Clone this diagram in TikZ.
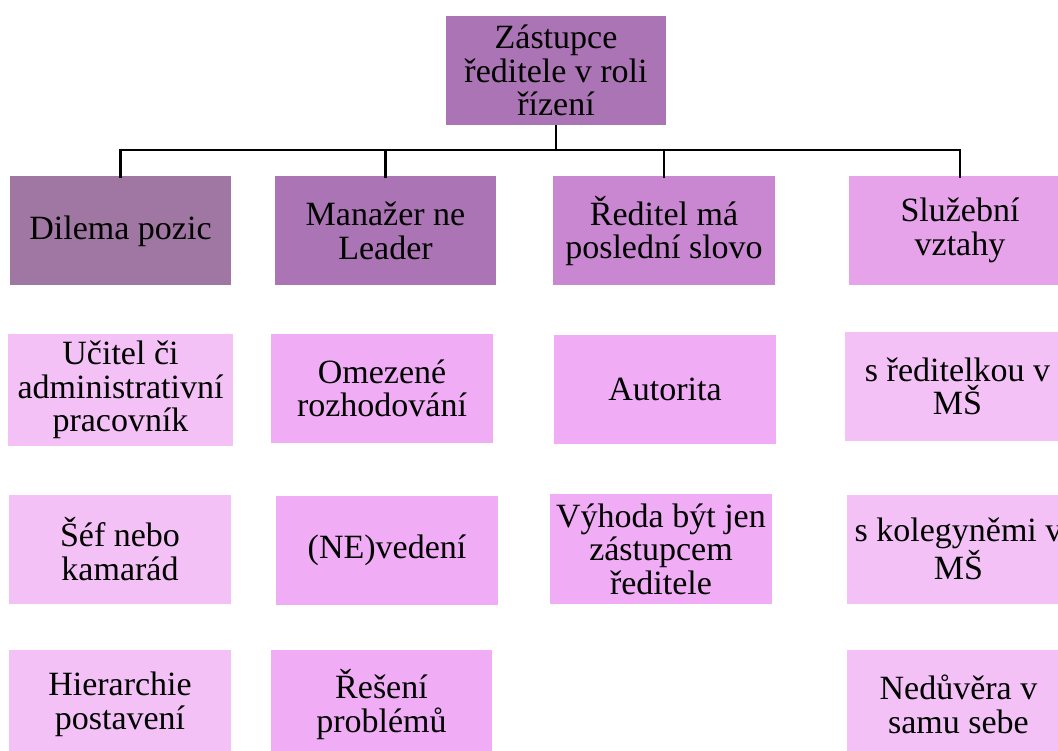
\documentclass[tikz,border=0pt]{standalone}
\usepackage{fontspec}
\setmainfont{Liberation Serif}
\definecolor{cTop}{HTML}{AB74B4}
\definecolor{cA}{HTML}{A077A3}
\definecolor{cB}{HTML}{AB74B4}
\definecolor{cC}{HTML}{C986D1}
\definecolor{cD}{HTML}{E6A3EA}
\definecolor{cLight}{HTML}{F3C1F6}
\definecolor{cMid}{HTML}{F0ACF5}
\tikzset{
  box/.style={draw=none, minimum width=221pt, minimum height=109pt, inner sep=0pt,
    align=center, font=\fontsize{34}{33.5}\selectfont, text=black},
  link/.style={draw=black, line width=2.6pt}
}
\begin{document}
\begin{tikzpicture}[x=1pt, y=-1pt]
\useasboundingbox (0,0) rectangle (1058,751);
\clip (0,0) rectangle (1058,751);
\fill[white] (0,0) rectangle (1058,751);
% top
\node[box, fill=cTop, minimum width=220pt] (top) at (556,70.5) {Zástupce\\ředitele v roli\\řízení};
% level 1
\node[box, fill=cA] (a1) at (120.5,231) {Dilema pozic};
\node[box, fill=cB] (b1) at (385.5,231) {Manažer ne\\Leader};
\node[box, fill=cC, minimum width=222pt] (c1) at (664,231) {Ředitel má\\poslední slovo};
\node[box, fill=cD, minimum width=223pt] (d1) at (960,230.5) {Služební\\vztahy};
% column 1
\node[box, fill=cLight, minimum width=225pt, minimum height=112pt] (a2) at (120.5,390) {Učitel či\\administrativní\\pracovník};
\node[box, fill=cLight, minimum width=222pt] (a3) at (120,549) {Šéf nebo\\kamarád};
\node[box, fill=cLight, minimum width=222pt] (a4) at (120,704.5) {Hierarchie\\postavení};
% column 2
\node[box, fill=cMid, minimum width=222pt] (b2) at (382,388.5) {Omezené\\rozhodování};
\node[box, fill=cMid, minimum width=222pt] (b3) at (387,550.5) {(NE)vedení};
\node[box, fill=cMid] (b4) at (381.5,704.5) {Řešení\\problémů};
% column 3
\node[box, fill=cMid, minimum width=222pt] (c2) at (665,389.5) {Autorita};
\node[box, fill=cMid, minimum width=222pt, minimum height=110pt] (c3) at (661,549) {Výhoda být jen\\zástupcem\\ředitele};
% column 4
\node[box, fill=cLight, minimum width=225pt] (d2) at (957.5,386.5) {s ředitelkou v\\MŠ};
\node[box, fill=cLight, minimum width=223pt] (d3) at (958.5,549) {s kolegyněmi v\\MŠ};
\node[box, fill=cLight, minimum width=223pt] (d4) at (958.5,704.5) {Nedůvěra v\\samu sebe};
% connectors
\coordinate (bus) at (556,150);
\draw[link] (top.south) -- (bus);
\draw[link] ([yshift=-2pt]a1.north) |- (bus);
\draw[link] ([yshift=-2pt]b1.north) |- (bus);
\draw[link] ([yshift=-2pt]c1.north) |- (bus);
\draw[link] ([yshift=-2pt]d1.north) |- (bus);
\end{tikzpicture}
\end{document}
